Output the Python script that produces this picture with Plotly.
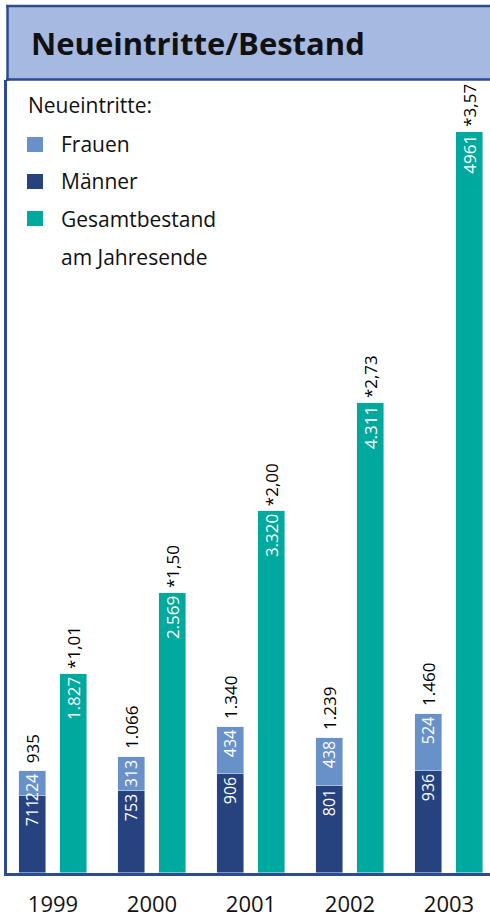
import plotly.graph_objects as go

# ---- data ----
years = ["1999", "2000", "2001", "2002", "2003"]
maenner = [711, 753, 906, 801, 936]
frauen = [224, 313, 434, 438, 524]
neu_total = [935, 1066, 1340, 1239, 1460]
neu_total_labels = ["935", "1.066", "1.340", "1.239", "1.460"]
gesamt = [1827, 2569, 3320, 4311, 4961]
gesamt_labels = ["1.827", "2.569", "3.320", "4.311", "4961"]
# bar heights as drawn in the reference (2003 bar is drawn taller than its value)
gesamt_drawn = [1827, 2569, 3320, 4311, 6800]
faktor = ["1,01", "1,50", "2,00", "2,73", "3,57"]

C_FRAUEN = "#6890c9"
C_MAENNER = "#26437f"
C_GESAMT = "#00a99e"
C_FRAME = "#2d4b8f"
C_TITLEBG = "#a6b9e0"
FONT = "Open Sans"

W, H = 490, 918
ML, MR, MT, MB = 7, 0, 80, 45
PW, PH = W - ML - MR, H - MT - MB


def px(x):
    return (x - ML) / PW


def py(y):
    return (H - MB - y) / PH


xi = list(range(len(years)))
off, bw = 0.207, 0.273
xs = [i - off for i in xi]
xg = [i + off for i in xi]

fig = go.Figure()
stack_font = dict(family=FONT, size=16, color="white")
teal_font = dict(family=FONT, size=17, color="white")
fig.add_trace(go.Bar(x=xs, y=maenner, width=bw, marker_color=C_MAENNER,
                     text=[str(v) for v in maenner], textposition="inside",
                     insidetextanchor="end", textangle=-90, textfont=stack_font,
                     name="Männer", showlegend=False))
fig.add_trace(go.Bar(x=xs, y=frauen, width=bw, marker_color=C_FRAUEN,
                     text=[str(v) for v in frauen], textposition="inside",
                     insidetextanchor="end", textangle=-90, textfont=stack_font,
                     name="Frauen", showlegend=False))
fig.add_trace(go.Bar(x=xg, y=gesamt_drawn, width=bw, marker_color=C_GESAMT,
                     text=gesamt_labels, textposition="inside",
                     insidetextanchor="end", textangle=-90, textfont=teal_font,
                     name="Gesamtbestand", showlegend=False))

ann = []
for x, y, t in zip(xs, neu_total, neu_total_labels):
    ann.append(dict(x=x, y=y, xref="x", yref="y", text=t, textangle=-90,
                    showarrow=False, xanchor="center", yanchor="bottom", yshift=6,
                    font=dict(family=FONT, size=17, color="black")))
for x, y, t in zip(xg, gesamt_drawn, faktor):
    ann.append(dict(x=x, y=y, xref="x", yref="y", text="*" + t, textangle=-90,
                    showarrow=False, xanchor="center", yanchor="bottom", yshift=3,
                    font=dict(family=FONT, size=17, color="black")))

# title
ann.append(dict(x=px(29), y=py(43), xref="paper", yref="paper", text="<b>Neueintritte/Bestand</b>",
                showarrow=False, xanchor="left", yanchor="middle",
                font=dict(family=FONT, size=31, color="#111111")))
# legend
lg_font = dict(family=FONT, size=21, color="#111111")
ann.append(dict(x=px(26), y=py(105), xref="paper", yref="paper", text="Neueintritte:",
                showarrow=False, xanchor="left", yanchor="middle", font=lg_font))
legend_items = [("Frauen", C_FRAUEN, 144.5), ("Männer", C_MAENNER, 181.5),
                ("Gesamtbestand", C_GESAMT, 218.5)]
shapes = []
for name, col, yc in legend_items:
    ann.append(dict(x=px(59), y=py(yc), xref="paper", yref="paper", text=name,
                    showarrow=False, xanchor="left", yanchor="middle", font=lg_font))
    shapes.append(dict(type="rect", xref="paper", yref="paper",
                       x0=px(27), x1=px(43), y0=py(yc + 7.5), y1=py(yc - 7.5),
                       fillcolor=col, line=dict(width=0)))
ann.append(dict(x=px(59), y=py(256.5), xref="paper", yref="paper", text="am Jahresende",
                showarrow=False, xanchor="left", yanchor="middle", font=lg_font))

# title box: fill + top/bottom/left borders (no right border)
frame = [
    dict(type="rect", xref="paper", yref="paper", x0=px(7), x1=px(490), y0=py(80), y1=py(6),
         fillcolor=C_TITLEBG, line=dict(width=0), layer="below"),
    dict(type="line", xref="paper", yref="paper", x0=px(6), x1=px(490), y0=py(6), y1=py(6),
         line=dict(color=C_FRAME, width=2.5)),
    dict(type="line", xref="paper", yref="paper", x0=px(6), x1=px(490), y0=py(79.5), y1=py(79.5),
         line=dict(color=C_FRAME, width=2.5)),
    dict(type="line", xref="paper", yref="paper", x0=px(7.5), x1=px(7.5), y0=py(5), y1=py(81),
         line=dict(color=C_FRAME, width=2.5)),
]
shapes = frame + shapes

fig.update_layout(
    width=W, height=H,
    margin=dict(l=ML, r=MR, t=MT, b=MB, pad=0),
    barmode="stack", bargap=0,
    plot_bgcolor="white", paper_bgcolor="white",
    font=dict(family=FONT),
    annotations=ann, shapes=shapes,
    showlegend=False,
    xaxis=dict(range=[-0.465, 4.414], tickvals=xi, ticktext=years,
               showline=True, linecolor=C_FRAME, linewidth=2.5, showgrid=False,
               zeroline=False, ticks="outside", ticklen=10, tickcolor="rgba(0,0,0,0)",
               tickfont=dict(family=FONT, size=22, color="#111111"), fixedrange=True),
    yaxis=dict(range=[0, PH / 0.109], showline=True, linecolor=C_FRAME, linewidth=2.5,
               showgrid=False, zeroline=False, showticklabels=False, ticks="",
               fixedrange=True),
)
fig.update_traces(constraintext="none", cliponaxis=False)
fig.write_html("out.html", config={"displayModeBar": False},
               post_script="document.body.style.margin='0';document.body.style.overflow='hidden';")
